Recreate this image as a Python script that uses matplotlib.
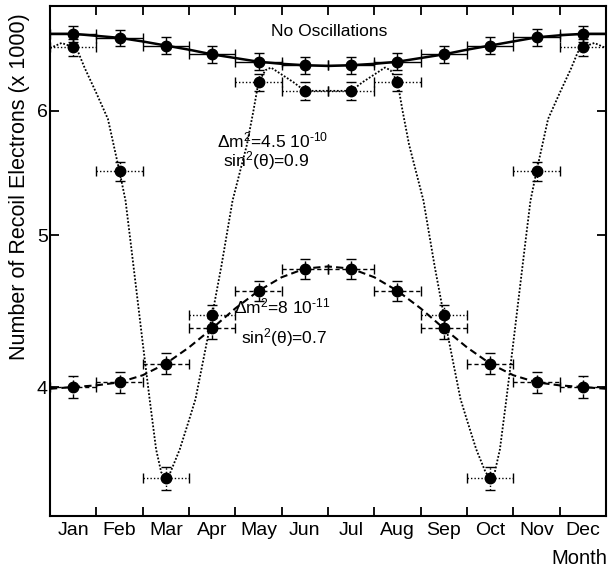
import matplotlib.pyplot as plt
import numpy as np
from matplotlib.ticker import FixedLocator, FixedFormatter, NullLocator

plt.rcParams['font.family'] = ['Liberation Sans', 'DejaVu Sans']
plt.rcParams['mathtext.fontset'] = 'custom'
plt.rcParams['mathtext.rm'] = 'Liberation Sans'
plt.rcParams['mathtext.it'] = 'Liberation Sans:italic'
plt.rcParams['mathtext.bf'] = 'Liberation Sans:bold'

months = ['Jan', 'Feb', 'Mar', 'Apr', 'May', 'Jun',
          'Jul', 'Aug', 'Sep', 'Oct', 'Nov', 'Dec']

# counts per month (x 1000)
noosc_counts = [6.72, 6.68, 6.605, 6.52, 6.45, 6.417, 6.417, 6.45, 6.52, 6.605, 6.685, 6.72]
noosc_err = [0.082, 0.082, 0.081, 0.081, 0.080, 0.080, 0.080, 0.080, 0.081, 0.081, 0.082, 0.082]

vac_counts = [6.59, 5.49, 3.50, 4.445, 6.26, 6.18, 6.18, 6.26, 4.445, 3.50, 5.49, 6.59]
vac_err = [0.081, 0.074, 0.059, 0.067, 0.079, 0.079, 0.079, 0.079, 0.067, 0.059, 0.074, 0.081]

msw_counts = [4.0, 4.028, 4.14, 4.36, 4.607, 4.76, 4.76, 4.607, 4.36, 4.14, 4.028, 4.0]
msw_err = [0.063, 0.063, 0.064, 0.066, 0.068, 0.069, 0.069, 0.068, 0.066, 0.064, 0.063, 0.063]

# expected curves
noosc_curve_x = [0, 0.5, 1, 1.5, 2, 2.5, 3, 3.5, 4, 4.5, 5, 5.5, 6,
                 6.5, 7, 7.5, 8, 8.5, 9, 9.5, 10, 10.5, 11, 11.5, 12]
noosc_curve_y = [6.72, 6.72, 6.70, 6.68, 6.645, 6.605, 6.565, 6.52, 6.485, 6.45, 6.43, 6.417, 6.41,
                 6.417, 6.43, 6.45, 6.485, 6.52, 6.565, 6.605, 6.645, 6.685, 6.705, 6.72, 6.72]

vac_curve_x = [0.0, 0.25, 0.5, 0.61, 0.75, 1.0, 1.25, 1.5, 1.63, 1.75, 1.9, 2.0, 2.15, 2.29,
               2.4, 2.5, 2.6, 2.8, 3.0, 3.14, 3.3, 3.5, 3.7, 3.94, 4.25, 4.39, 4.5, 4.65,
               4.77, 5.0, 5.25, 5.5, 6.0,
               6.5, 6.75, 7.0, 7.23, 7.35, 7.5, 7.61, 7.75, 8.06, 8.3, 8.5, 8.7, 8.86, 9.0,
               9.2, 9.4, 9.5, 9.6, 9.71, 9.85, 10.0, 10.1, 10.25, 10.37, 10.5, 10.75, 11.0,
               11.25, 11.39, 11.5, 11.75, 12.0]
vac_curve_y = [6.58, 6.63, 6.59, 6.54, 6.39, 6.16, 5.93, 5.49, 5.26, 4.92, 4.52, 4.27, 3.93, 3.65,
               3.53, 3.50, 3.53, 3.65, 3.81, 3.93, 4.15, 4.445, 4.78, 5.26, 5.71, 6.00, 6.26, 6.37,
               6.395, 6.33, 6.26, 6.18, 6.18,
               6.18, 6.26, 6.33, 6.395, 6.37, 6.26, 6.00, 5.71, 5.26, 4.78, 4.445, 4.15, 3.93, 3.81,
               3.65, 3.53, 3.50, 3.53, 3.65, 3.93, 4.27, 4.52, 4.92, 5.26, 5.49, 5.93, 6.16,
               6.39, 6.54, 6.59, 6.63, 6.58]

msw_curve_x = [0, 0.5, 1, 1.5, 2, 2.5, 3, 3.5, 4, 4.5, 5, 5.5, 6,
               6.5, 7, 7.5, 8, 8.5, 9, 9.5, 10, 10.5, 11, 11.5, 12]
msw_curve_y = [3.99, 4.0, 4.01, 4.028, 4.07, 4.14, 4.24, 4.36, 4.49, 4.607, 4.70, 4.76, 4.775,
               4.76, 4.70, 4.607, 4.49, 4.36, 4.24, 4.14, 4.07, 4.028, 4.01, 4.0, 3.99]

x = np.arange(len(months)) + 0.5

fig = plt.figure(figsize=(6.08, 5.76), dpi=100)
ax = fig.add_axes([50 / 608, 1 - 516 / 576, 556 / 608, 510 / 576])

ax.plot(noosc_curve_x, noosc_curve_y, color='black', lw=1.8, zorder=2)
ax.plot(vac_curve_x, vac_curve_y, color='black', lw=1.3, linestyle=(0, (1, 1)), zorder=2)
ax.plot(msw_curve_x, msw_curve_y, color='black', lw=1.5, linestyle=(0, (3.5, 2)), zorder=2)

def draw_points(vals, err, ls):
    eb = ax.errorbar(x, vals, yerr=err, xerr=0.5, fmt='o', color='black', ms=7.5,
                     capsize=3.5, elinewidth=1.0, capthick=1.0, zorder=3)
    for c in eb[2]:
        c.set_linestyle(ls)

draw_points(noosc_counts, noosc_err, '-')
draw_points(vac_counts, vac_err, (0, (1, 1.5)))
draw_points(msw_counts, msw_err, (0, (3, 2)))

ax.set_yscale('log')
ax.set_ylim(3.31, 7.0)
ax.set_xlim(0, 12)
ax.yaxis.set_major_locator(FixedLocator([4, 5, 6]))
ax.yaxis.set_major_formatter(FixedFormatter(['4', '5', '6']))
ax.yaxis.set_minor_locator(NullLocator())

ax.xaxis.set_major_locator(FixedLocator(np.arange(1, 12)))
ax.xaxis.set_major_formatter(FixedFormatter([''] * 11))
ax.xaxis.set_minor_locator(FixedLocator(x))
ax.xaxis.set_minor_formatter(FixedFormatter(months))

ax.tick_params(which='major', direction='in', length=6.5, width=1.3, top=True, right=True,
               labelsize=14, pad=1.5)
ax.tick_params(axis='x', which='minor', length=0, labelsize=14, pad=4)
for s in ax.spines.values():
    s.set_linewidth(1.5)

ax.text(4.77, 6.70, 'No Oscillations', fontsize=12.5, ha='left', va='baseline')
ax.text(3.61, 5.686, r'Δm$^2$=4.5 10$^{\text{-}10}$', fontsize=12.5, ha='left', va='baseline')
ax.text(3.74, 5.528, r'sin$^2$(θ)=0.9', fontsize=12.5, ha='left', va='baseline')
ax.text(3.98, 4.46, r'Δm$^2$=8 10$^{\text{-}11}$', fontsize=12.5, ha='left', va='baseline')
ax.text(4.12, 4.268, r'sin$^2$(θ)=0.7', fontsize=12.5, ha='left', va='baseline')

fig.text(20 / 608, 1 - 186.5 / 576, 'Number of Recoil Electrons (x 1000)', rotation=90,
         ha='center', va='center', fontsize=15.5)
fig.text(607 / 608, 1 - 558 / 576, 'Month', ha='right', va='center', fontsize=14.5)

fig.savefig('out.png', dpi=100)
